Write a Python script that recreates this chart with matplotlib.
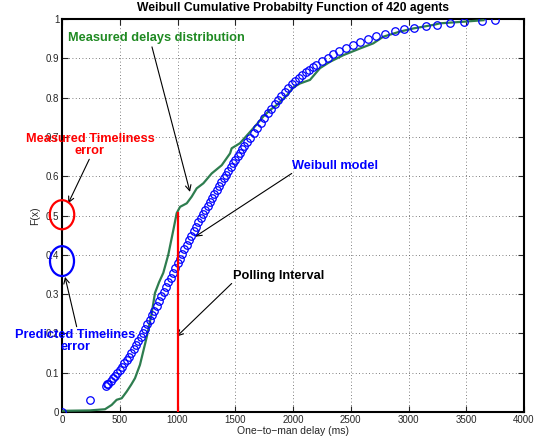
import matplotlib.pyplot as plt
from matplotlib.patches import Ellipse

# -----------------------------
# Data
# -----------------------------
# empirical CDF of measured delays (ms, F)
measured_x = [0, 240, 372, 430, 473, 517, 560, 600, 632, 675, 733, 776, 805, 840,
              877, 920, 964, 993, 1022, 1080, 1123, 1166, 1224, 1296, 1383, 1455,
              1469, 1541, 1620, 1686, 1743, 1800, 1859, 1945, 2003, 2061, 2147,
              2234, 2320, 2436, 2580, 2695, 2782, 2926, 3042, 3215, 3273, 3472, 3650]
measured_f = [0.003, 0.004, 0.007, 0.018, 0.031, 0.035, 0.052, 0.070, 0.086, 0.120,
              0.190, 0.250, 0.303, 0.330, 0.354, 0.400, 0.463, 0.506, 0.522, 0.531,
              0.548, 0.569, 0.582, 0.607, 0.628, 0.658, 0.671, 0.684, 0.710, 0.732,
              0.752, 0.768, 0.781, 0.805, 0.826, 0.836, 0.845, 0.875, 0.891, 0.908,
              0.925, 0.938, 0.955, 0.968, 0.976, 0.985, 0.989, 0.993, 0.997]

# Weibull model evaluated at the agents' delays
weibull_x = [0, 242, 380, 392,
             400, 420, 440, 460, 480, 500, 520, 540, 560, 580,
             600, 620, 640, 660, 680, 700, 720, 740, 760, 780,
             800, 820, 840, 860, 880, 900, 920, 940, 960, 980,
             1000, 1020, 1040, 1060, 1080, 1100, 1120, 1140, 1160, 1180,
             1200, 1220, 1240, 1260, 1280, 1300, 1320, 1340, 1360, 1380,
             1400, 1420, 1440, 1460, 1480, 1500, 1520, 1540, 1560, 1580,
             1600, 1630, 1660, 1690, 1720, 1750, 1780, 1810, 1840, 1870,
             1900, 1930, 1960, 1990, 2020, 2050, 2080, 2110, 2140, 2170,
             2200, 2250, 2300, 2350, 2400, 2460, 2520, 2580, 2650, 2720,
             2800, 2880, 2960, 3050, 3150, 3250, 3359, 3483, 3634, 3749]
weibull_f = [0.0, 0.031, 0.067, 0.070,
             0.072, 0.079, 0.086, 0.092, 0.099, 0.106, 0.115, 0.124, 0.132, 0.141,
             0.150, 0.160, 0.170, 0.181, 0.191, 0.201, 0.212, 0.224, 0.235, 0.247,
             0.258, 0.270, 0.282, 0.294, 0.306, 0.318, 0.330, 0.342, 0.354, 0.366,
             0.378, 0.390, 0.402, 0.414, 0.426, 0.438, 0.449, 0.460, 0.472, 0.483,
             0.494, 0.504, 0.514, 0.525, 0.535, 0.545, 0.555, 0.565, 0.575, 0.585,
             0.595, 0.604, 0.614, 0.623, 0.633, 0.642, 0.651, 0.660, 0.668, 0.677,
             0.686, 0.698, 0.711, 0.723, 0.735, 0.748, 0.760, 0.772, 0.783, 0.794,
             0.805, 0.815, 0.825, 0.835, 0.843, 0.850, 0.857, 0.864, 0.870, 0.877,
             0.883, 0.893, 0.902, 0.910, 0.918, 0.926, 0.934, 0.942, 0.949, 0.956,
             0.963, 0.969, 0.974, 0.978, 0.982, 0.986, 0.989, 0.992, 0.995, 0.997]

polling_interval = 1000
polling_f = 0.506

x_ticks = [0, 500, 1000, 1500, 2000, 2500, 3000, 3500, 4000]
y_ticks = [0, 0.1, 0.2, 0.3, 0.4, 0.5, 0.6, 0.7, 0.8, 0.9, 1.0]
y_tick_labels = ["0", "0.1", "0.2", "0.3", "0.4", "0.5", "0.6", "0.7", "0.8", "0.9", "1"]

# -----------------------------
# Theme
# -----------------------------
GREEN_LINE = "#2e7d4f"
GREEN_TEXT = "#1f8a22"
BLUE = "#0000ff"
RED = "#ff0000"
TICK_COLOR = "#262626"

plt.rcParams.update({
    "font.family": ["Liberation Sans", "DejaVu Sans"],
    "axes.linewidth": 1.5,
    "xtick.direction": "in",
    "ytick.direction": "in",
    "xtick.top": True,
    "ytick.right": True,
})

fig = plt.figure(figsize=(5.46, 4.42), dpi=100)
ax = fig.add_axes([62 / 546, 30 / 442, 462 / 546, 393 / 442])

# -----------------------------
# Curves
# -----------------------------
ax.plot(measured_x, measured_f, color=GREEN_LINE, lw=1.6, zorder=3)
ax.plot(weibull_x, weibull_f, linestyle="none", marker="o", markersize=5.4,
        markerfacecolor="none", markeredgecolor=BLUE, markeredgewidth=0.9, zorder=4)
ax.plot([polling_interval, polling_interval], [0, polling_f], color=RED, lw=1.6, zorder=5)

# timeliness error ellipses on the F(x) axis
ax.add_patch(Ellipse((0, 0.502), 212, 0.074, fill=False, edgecolor=RED, lw=1.6,
                     clip_on=False, zorder=6))
ax.add_patch(Ellipse((0, 0.384), 208, 0.076, fill=False, edgecolor=BLUE, lw=1.6,
                     clip_on=False, zorder=6))

# -----------------------------
# Axes styling
# -----------------------------
ax.set_xlim(0, 4000)
ax.set_ylim(0, 1)
ax.set_xticks(x_ticks)
ax.set_yticks(y_ticks)
ax.set_yticklabels(y_tick_labels)
ax.tick_params(labelsize=7, colors=TICK_COLOR, length=4, width=0.8, pad=2)
ax.grid(True, linestyle=(0, (1, 3)), color="#555555", lw=0.6)
ax.set_axisbelow(True)

ax.set_title("Weibull Cumulative Probabilty Function of 420 agents",
             fontsize=8.7, fontweight="bold", pad=6)
ax.set_xlabel("One\u2212to\u2212man delay (ms)", fontsize=7.5, color=TICK_COLOR, labelpad=1)
ax.set_ylabel("F(x)", fontsize=7.5, color=TICK_COLOR, labelpad=4)

# -----------------------------
# Annotations
# -----------------------------
arrow = dict(arrowstyle="->", color="black", lw=0.8, shrinkA=0, shrinkB=0)

ax.text(52, 0.952, "Measured delays distribution", color=GREEN_TEXT,
        fontsize=9.2, fontweight="bold", va="center", ha="left")
ax.annotate("", xy=(1108, 0.560), xytext=(779, 0.929), arrowprops=arrow)

ax.text(1991, 0.626, "Weibull model", color=BLUE, fontsize=9.2,
        fontweight="bold", va="center", ha="left")
ax.annotate("", xy=(1152, 0.446), xytext=(1989, 0.607), arrowprops=arrow)

ax.text(1480, 0.346, "Polling Interval", color="black", fontsize=9.2,
        fontweight="bold", va="center", ha="left")
ax.annotate("", xy=(993, 0.192), xytext=(1469, 0.327), arrowprops=arrow)

ax.text(242, 0.679, "Measured Timeliness\nerror", color=RED, fontsize=9.2,
        fontweight="bold", va="center", ha="center", multialignment="center",
        linespacing=1.0, clip_on=False, zorder=7)
ax.annotate("", xy=(54, 0.531), xytext=(236, 0.643), arrowprops=arrow,
            annotation_clip=False)

ax.text(113, 0.181, "Predicted Timelines\nerror", color=BLUE, fontsize=9.2,
        fontweight="bold", va="center", ha="center", multialignment="center",
        linespacing=1.0, clip_on=False, zorder=7)
ax.annotate("", xy=(26, 0.344), xytext=(127, 0.217), arrowprops=arrow,
            annotation_clip=False)

fig.savefig("out.png", dpi=100)
